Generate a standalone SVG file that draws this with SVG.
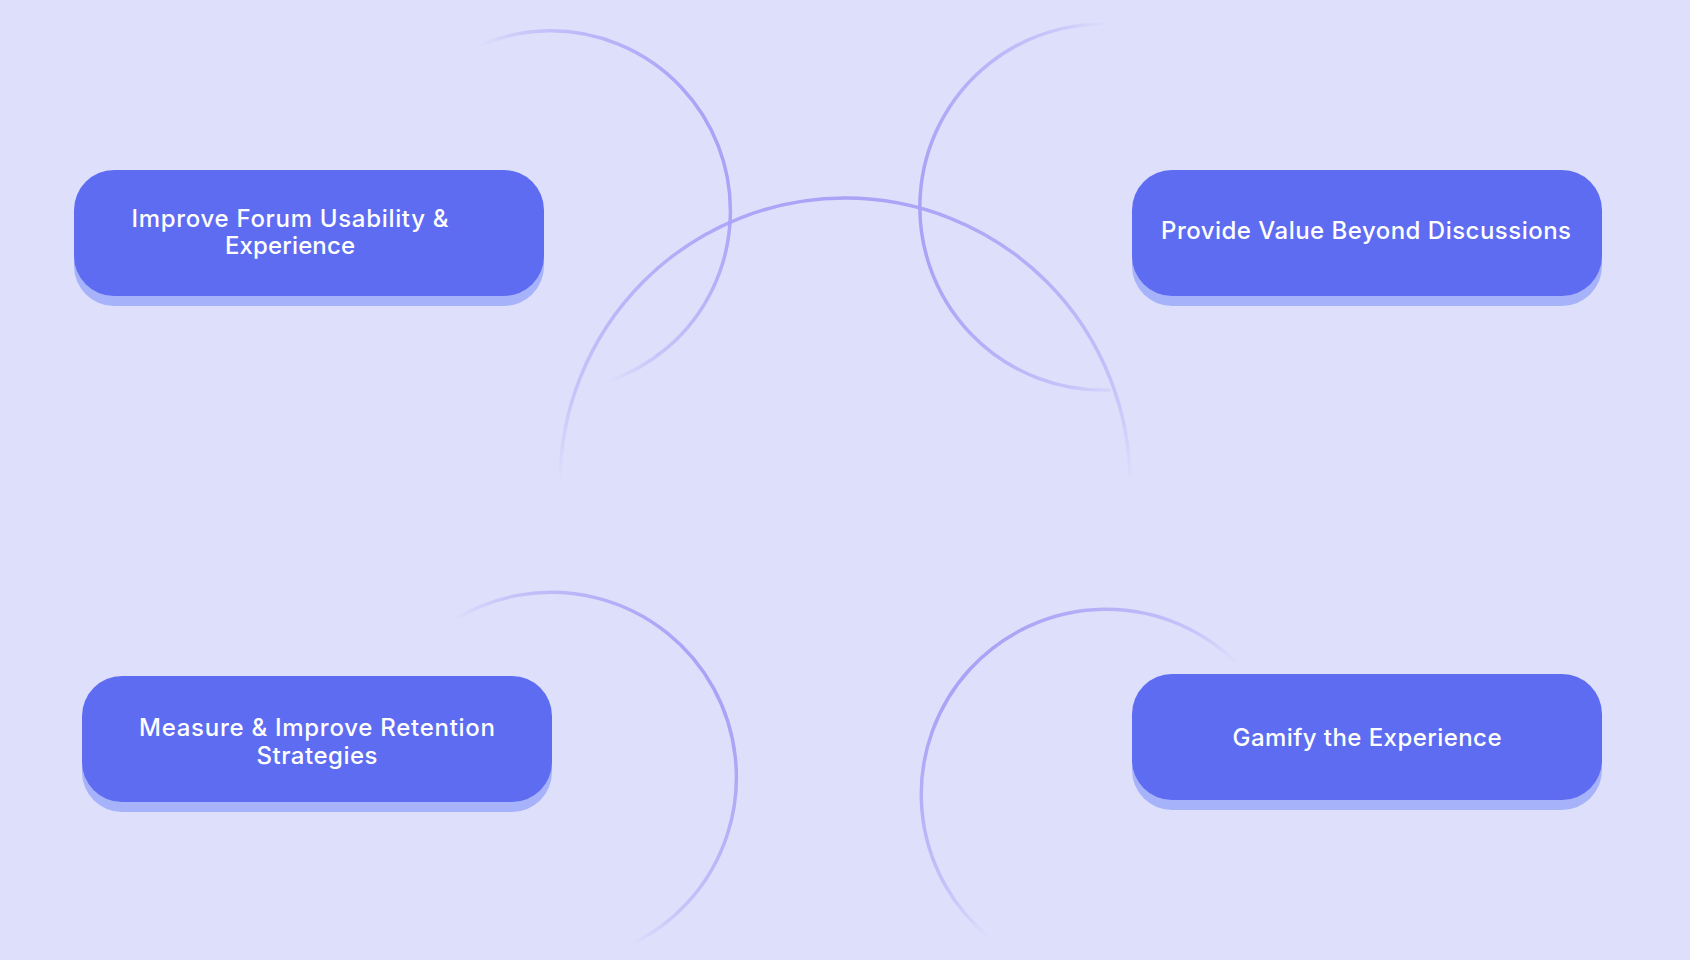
<svg xmlns="http://www.w3.org/2000/svg" width="1690" height="960" viewBox="0 0 1690 960">
  <style>
    .arc { fill: none; stroke-width: 3.5; stroke-linecap: round; }
    .shadow { fill: #a6b2f9; }
    .box { fill: #5e6cf2; }
    .label { font-family: Inter, "Noto Sans", "Liberation Sans", sans-serif; font-size: 24px; font-weight: 500; fill: #ffffff; text-anchor: middle; }
    .s0 { stop-color: #a9a3f7; stop-opacity: 0; }
    .s1 { stop-color: #a9a3f7; stop-opacity: 0.45; }
    .s2 { stop-color: #a9a3f7; stop-opacity: 1; }
  </style>
  <defs>
    <linearGradient id="gA" gradientUnits="userSpaceOnUse" x1="541.7" y1="214.2" x2="717.9" y2="146.1">
      <stop offset="0" class="s0"/><stop offset="0.3" class="s1"/><stop offset="1" class="s2"/>
    </linearGradient>
    <linearGradient id="gB" gradientUnits="userSpaceOnUse" x1="1121.5" y1="205.8" x2="920.4" y2="219.1">
      <stop offset="0" class="s0"/><stop offset="0.3" class="s1"/><stop offset="1" class="s2"/>
    </linearGradient>
    <linearGradient id="gC" gradientUnits="userSpaceOnUse" x1="845" y1="483" x2="845" y2="193">
      <stop offset="0" class="s0"/><stop offset="0.3" class="s1"/><stop offset="1" class="s2"/>
    </linearGradient>
    <linearGradient id="gD" gradientUnits="userSpaceOnUse" x1="541.2" y1="782.9" x2="714.1" y2="687.9">
      <stop offset="0" class="s0"/><stop offset="0.3" class="s1"/><stop offset="1" class="s2"/>
    </linearGradient>
    <linearGradient id="gE" gradientUnits="userSpaceOnUse" x1="1114.8" y1="802" x2="969.4" y2="669.3">
      <stop offset="0" class="s0"/><stop offset="0.3" class="s1"/><stop offset="1" class="s2"/>
    </linearGradient>
  </defs>

  <rect x="0" y="0" width="1690" height="960" fill="#dee0fb"/>

  <g id="connectors">
    <path class="arc" stroke="url(#gA)" d="M476.8,46.6 A180,180 0 1 1 606.5,381.9"/>
    <path class="arc" stroke="url(#gB)" d="M1133.5,26.6 A183,183 0 1 0 1109.4,389.9"/>
    <path class="arc" stroke="url(#gC)" d="M560,483 A285,285 0 1 1 1130,483"/>
    <path class="arc" stroke="url(#gD)" d="M452.3,621.1 A185,185 0 1 1 630.2,944.7"/>
    <path class="arc" stroke="url(#gE)" d="M1239.3,665.7 A185,185 0 1 0 990.3,938.4"/>
  </g>

  <g id="node-usability">
    <rect class="shadow" x="74" y="180" width="470" height="126" rx="40" ry="40"/>
    <rect class="box" x="74" y="170" width="470" height="126" rx="40" ry="40"/>
    <text class="label" x="290" y="226.7" textLength="317" lengthAdjust="spacing">Improve Forum Usability &amp;</text>
    <text class="label" x="290" y="254.3" textLength="130" lengthAdjust="spacing">Experience</text>
  </g>

  <g id="node-value">
    <rect class="shadow" x="1132" y="180" width="470" height="126" rx="40" ry="40"/>
    <rect class="box" x="1132" y="170" width="470" height="126" rx="40" ry="40"/>
    <text class="label" x="1366" y="239.3" textLength="410" lengthAdjust="spacing">Provide Value Beyond Discussions</text>
  </g>

  <g id="node-retention">
    <rect class="shadow" x="82" y="686" width="470" height="126" rx="40" ry="40"/>
    <rect class="box" x="82" y="676" width="470" height="126" rx="40" ry="40"/>
    <text class="label" x="317" y="736" textLength="356" lengthAdjust="spacing">Measure &amp; Improve Retention</text>
    <text class="label" x="317" y="764" textLength="121" lengthAdjust="spacing">Strategies</text>
  </g>

  <g id="node-gamify">
    <rect class="shadow" x="1132" y="684" width="470" height="126" rx="40" ry="40"/>
    <rect class="box" x="1132" y="674" width="470" height="126" rx="40" ry="40"/>
    <text class="label" x="1367" y="746" textLength="269" lengthAdjust="spacing">Gamify the Experience</text>
  </g>
</svg>
